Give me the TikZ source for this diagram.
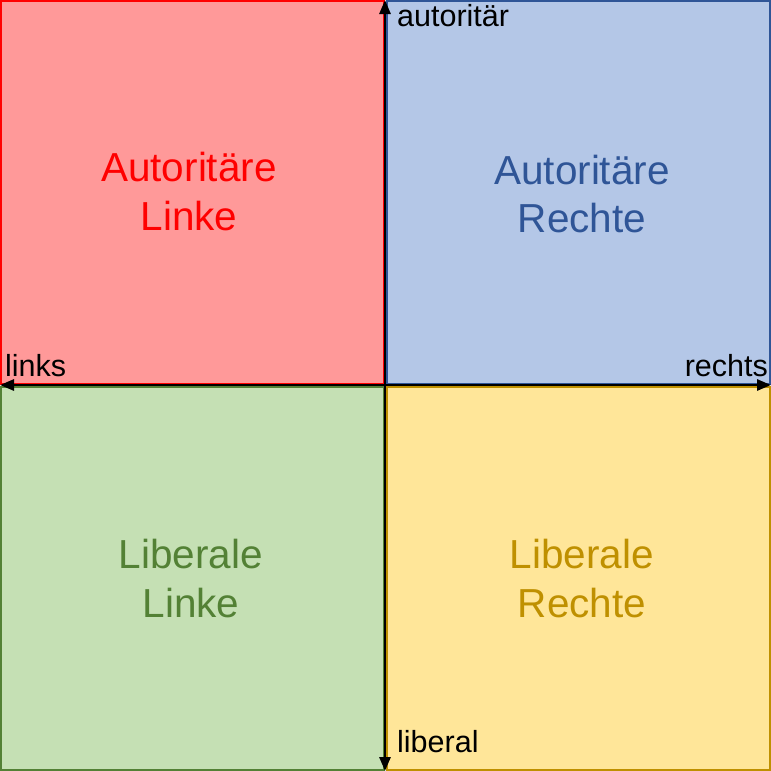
\documentclass[tikz,border=0pt]{standalone}
\usepackage{fontspec}
\setmainfont{Liberation Sans}
\usetikzlibrary{arrows.meta,positioning}
\definecolor{alfill}{HTML}{FF9999}
\definecolor{aldraw}{HTML}{FF0000}
\definecolor{arfill}{HTML}{B4C7E7}
\definecolor{ardraw}{HTML}{2F5597}
\definecolor{llfill}{HTML}{C5E0B4}
\definecolor{lldraw}{HTML}{538135}
\definecolor{lrfill}{HTML}{FFE699}
\definecolor{lrdraw}{HTML}{BF9000}
\tikzset{
  quad/.style={rectangle, draw, line width=2pt, minimum width=383pt, minimum height=383pt, inner sep=0pt},
  alquad/.style={quad, fill=alfill, draw=aldraw},
  arquad/.style={quad, fill=arfill, draw=ardraw},
  llquad/.style={quad, fill=llfill, draw=lldraw},
  lrquad/.style={quad, fill=lrfill, draw=lrdraw},
  quadtext/.style={align=center, inner sep=0pt, font=\fontsize{40.5}{48.5}\selectfont},
  axis/.style={{Triangle[length=14pt,width=11pt]}-{Triangle[length=14pt,width=11pt]}, line width=2.8pt},
  axlabel/.style={font=\fontsize{30.5}{36}\selectfont, inner sep=0pt},
}
\begin{document}
\begin{tikzpicture}[x=1pt,y=-1pt]
  \useasboundingbox (0,0) rectangle (771,771);

  % quadrants
  \node[alquad] (al) at (192.5,192.5) {};
  \node[arquad] (ar) at (578.5,192.5) {};
  \node[llquad] (ll) at (192.5,578.5) {};
  \node[lrquad] (lr) at (578.5,578.5) {};

  % quadrant names
  \node[quadtext, text=aldraw, xshift=-3.5pt, yshift=1pt] (altext) at (al.center) {Autoritäre\\Linke};
  \node[quadtext, text=ardraw, xshift=3.5pt, yshift=-1.5pt] (artext) at (ar.center) {Autoritäre\\Rechte};
  \node[quadtext, text=lldraw, xshift=-1.5pt] (lltext) at (ll.center) {Liberale\\Linke};
  \node[quadtext, text=lrdraw, xshift=3.5pt] (lrtext) at (lr.center) {Liberale\\Rechte};

  % axes
  \coordinate (top) at (385,0);
  \coordinate (bottom) at (385,771);
  \coordinate (left) at (0,385);
  \coordinate (right) at (771,385);
  \draw[axis] (top) -- (bottom);
  \draw[axis] (left) -- (right);

  % axis labels
  \node[axlabel, anchor=base west] (aut) at (397,27) {autoritär};
  \node[axlabel, anchor=base west] (lib) at (397,752) {liberal};
  \node[axlabel, anchor=base west] (lnk) at (5,376) {links};
  \node[axlabel, anchor=base east] (rch) at (768,376) {rechts};
\end{tikzpicture}
\end{document}
